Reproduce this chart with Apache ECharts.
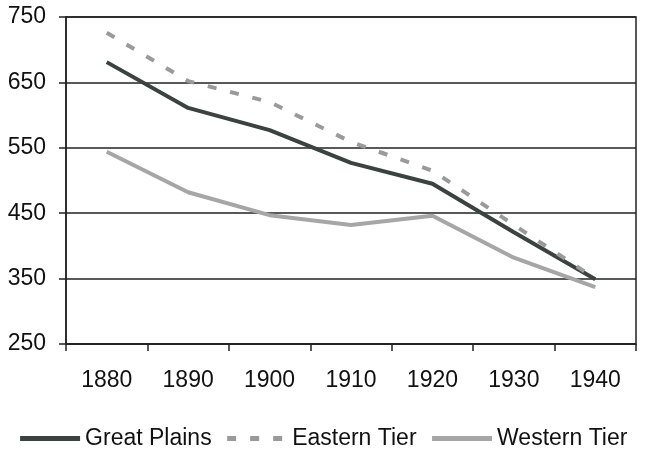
<!DOCTYPE html>
<html>
<head>
<meta charset="utf-8">
<script src="https://cdn.jsdelivr.net/npm/echarts@6/dist/echarts.min.js"></script>
<style>
html,body{margin:0;padding:0;background:#fff;}
#chart{width:645px;height:451px;}
</style>
</head>
<body>
<div id="chart"></div>
<script>
const years = ['1880','1890','1900','1910','1920','1930','1940'];
const greatPlains = [681, 611, 577, 527, 495, 421, 349];
const easternTier = [726, 652, 620, 559, 515, 432, 350];
const westernTier = [544, 482, 447, 432, 446, 382, 337];
const yTicks = { min: 250, max: 750, interval: 100 };

const chart = echarts.init(document.getElementById('chart'));
const font = 'Liberation Sans, Arial, sans-serif';
chart.setOption({
  animation: false,
  backgroundColor: '#fff',
  grid: { left: 66, right: 9, top: 17, bottom: 107, show: true, borderColor: '#222', borderWidth: 1.5, containLabel: false },
  legend: {
    top: 422, left: 'center',
    itemWidth: 60, itemHeight: 14, itemGap: 13,
    itemStyle: { opacity: 0 },
    lineStyle: { width: 5 },
    textStyle: { fontFamily: font, fontSize: 23, color: '#111' },
    data: ['Great Plains', 'Eastern Tier', 'Western Tier']
  },
  xAxis: {
    type: 'category', data: years, boundaryGap: true,
    axisLine: { lineStyle: { color: '#222', width: 1.5 } },
    axisTick: { show: true, length: 7, lineStyle: { color: '#222', width: 1.5 } },
    axisLabel: { fontFamily: font, fontSize: 23, color: '#111', margin: 25 }
  },
  yAxis: {
    type: 'value', min: yTicks.min, max: yTicks.max, interval: yTicks.interval,
    axisLine: { show: true, lineStyle: { color: '#222', width: 1.5 } },
    axisTick: { show: true, length: 7, lineStyle: { color: '#222', width: 1.5 } },
    axisLabel: { fontFamily: font, fontSize: 23, color: '#111', margin: 20 },
    splitLine: { lineStyle: { color: '#222', width: 1.5 } }
  },
  series: [
    { name: 'Great Plains', type: 'line', data: greatPlains, symbol: 'none',
      lineStyle: { color: '#3a4340', width: 4 }, itemStyle: { color: '#3a4340' } },
    { name: 'Eastern Tier', type: 'line', data: easternTier, symbol: 'none',
      lineStyle: { color: '#9a9a9a', width: 4, type: [9, 14] }, itemStyle: { color: '#9a9a9a' } },
    { name: 'Western Tier', type: 'line', data: westernTier, symbol: 'none',
      lineStyle: { color: '#a6a6a6', width: 4 }, itemStyle: { color: '#a6a6a6' } }
  ]
});
</script>
</body>
</html>
